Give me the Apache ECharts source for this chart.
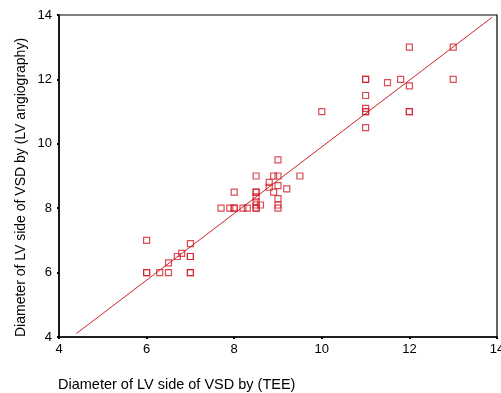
<!DOCTYPE html>
<html>
<head>
<meta charset="utf-8">
<script src="https://cdn.jsdelivr.net/npm/echarts@6/dist/echarts.min.js"></script>
<style>html,body{margin:0;padding:0;background:#fff;}#c{width:501px;height:393px;}</style>
</head>
<body>
<div id="c"></div>
<script>
var teeValues = [6, 6, 6, 6.3, 6.5, 7, 7, 6.5, 6.7, 6.8, 7, 7, 7,
  7.7, 7.9, 8, 8, 8.2, 8.3, 8.5, 8.5, 8, 8.5, 8.5, 8.5, 8.5, 8.5, 8.5, 8.6, 8.8, 8.8, 8.9, 9, 9, 8.9, 9, 9.2, 9.5, 9, 9, 9,
  10, 11, 11, 11, 11, 11, 11, 11, 11.5, 11.8, 12, 12, 12, 12, 13, 13];
var angioValues = [7, 6, 6, 6, 6, 6, 6, 6.3, 6.5, 6.6, 6.9, 6.5, 6.5,
  8, 8, 8, 8, 8, 8, 8, 8, 8.5, 9, 8.5, 8.5, 8.35, 8.2, 8.1, 8.1, 8.8, 8.65, 9, 9, 9.5, 8.5, 8.7, 8.6, 9, 8.3, 8.1, 8,
  11, 10.5, 11, 11, 11.1, 11.5, 12, 12, 11.9, 12, 11.8, 11, 11, 13, 13, 12];
var fitLineX = [4.4, 13.89];
var fitLineY = [4.11, 13.93];
var xTicks = [4, 6, 8, 10, 12, 14];
var yTicks = [4, 6, 8, 10, 12, 14];

var pts = teeValues.map(function (x, i) { return [x, angioValues[i]]; });
var fit = fitLineX.map(function (x, i) { return [x, fitLineY[i]]; });
var red = '#d0202a';
var font = 'Liberation Sans, Arial, sans-serif';

var chart = echarts.init(document.getElementById('c'));
chart.setOption({
  animation: false,
  backgroundColor: '#fff',
  grid: { left: 59, right: 4, top: 15, bottom: 56, containLabel: false, outerBoundsMode: 'none', show: true, borderColor: '#000', borderWidth: 1.2, backgroundColor: 'transparent' },
  xAxis: {
    type: 'value', min: xTicks[0], max: xTicks[xTicks.length - 1], interval: 2,
    axisLine: { show: true, onZero: false, lineStyle: { color: '#000', width: 1.5 } },
    axisTick: { show: true, length: 2, lineStyle: { color: '#000', width: 2 } },
    axisLabel: { color: '#000', fontSize: 13, fontFamily: font, margin: 6 },
    splitLine: { show: false }
  },
  yAxis: {
    type: 'value', min: yTicks[0], max: yTicks[yTicks.length - 1], interval: 2,
    axisLine: { show: true, onZero: false, lineStyle: { color: '#000', width: 1.5 } },
    axisTick: { show: true, length: 2, lineStyle: { color: '#000', width: 2 } },
    axisLabel: { color: '#000', fontSize: 13, fontFamily: font, margin: 7 },
    splitLine: { show: false }
  },
  graphic: [
    { type: 'text', left: 58, top: 377, style: { text: 'Diameter of LV side of VSD by (TEE)', fill: '#000', font: '14.5px ' + font } },
    { type: 'text', x: 14, y: 337, rotation: Math.PI / 2, style: { text: 'Diameter of LV side of VSD by (LV angiography)', fill: '#000', font: '14px ' + font, textAlign: 'left', textVerticalAlign: 'top' } }
  ],
  series: [
    {
      type: 'line', data: fit, symbol: 'none', silent: true,
      lineStyle: { color: red, width: 1 }
    },
    {
      type: 'scatter', data: pts, symbol: 'rect', symbolSize: 6,
      itemStyle: { color: 'transparent', borderColor: red, borderWidth: 1.2 }
    }
  ]
});
</script>
</body>
</html>
